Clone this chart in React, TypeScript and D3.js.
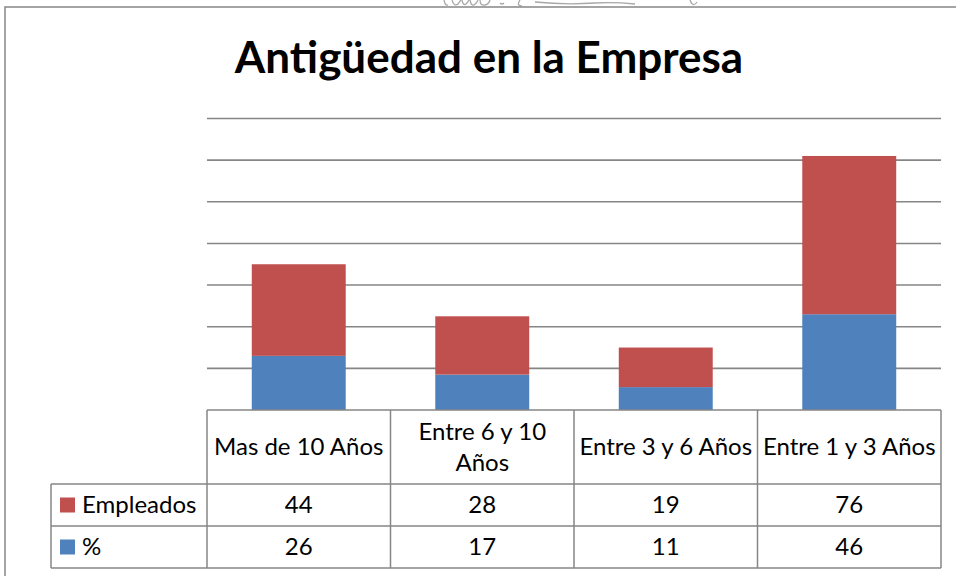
import React from 'react';
import * as d3 from 'd3';

// chart data
const categories = ['Mas de 10 Años', 'Entre 6 y 10 Años', 'Entre 3 y 6 Años', 'Entre 1 y 3 Años'];
const headerLines = [['Mas de 10 Años'], ['Entre 6 y 10', 'Años'], ['Entre 3 y 6 Años'], ['Entre 1 y 3 Años']];
const empleados = [44, 28, 19, 76];
const porcentaje = [26, 17, 11, 46];
const seriesNames = ['Empleados', '%'];
const yTicks = [0, 20, 40, 60, 80, 100, 120, 140];

const W = 956;
const H = 576;
const FONT = 'Lato, "Open Sans", sans-serif';
const BLUE = '#4F81BD';
const RED = '#C0504D';
const GRID = '#868686';

// bits of handwriting cut off above the frame (scan leftover)
const SCRIBBLE = 'M444,0 q1,6 4,5 M452,0 q2,7 6,4 q2,-3 3,-4 M462,0 q1,6 4,4 q2,-2 3,-4 M470,0 q1,6 4,5 q3,-2 4,-5 M480,0 q0,6 5,5 q4,-1 5,-5 M500,3 q2,2 4,0 M520,0 q-4,6 2,6 M535,2 q30,3 60,1 q20,-1 40,1 M690,0 q3,8 7,2';

const App = () => {
  const left = 207;
  const right = 941;
  const plotTop = 118.5;
  const plotBottom = 410;
  const headerBottom = 484;
  const rowH = 42;
  const tableLeft = 51;

  const x = d3.scaleBand<string>()
    .domain(categories)
    .range([left, right])
    .paddingInner(0.488)
    .paddingOuter(0.244);

  const cell = d3.scaleBand<string>().domain(categories).range([left, right]);

  const y = d3.scaleLinear().domain([0, 140]).range([plotBottom, plotTop]);

  const rows = categories.map((c, i) => ({ cat: c, pct: porcentaje[i], emp: empleados[i] }));
  const stacked = d3.stack<any>().keys(['pct', 'emp'])(rows);
  const colors: Record<string, string> = { pct: BLUE, emp: RED };

  const tableRows = [
    { name: seriesNames[0], values: empleados, color: RED },
    { name: seriesNames[1], values: porcentaje, color: BLUE },
  ];

  return (
    <svg width={W} height={H} style={{ position: 'absolute', left: 0, top: 0, background: '#fff' }}>
      <path d={SCRIBBLE} fill="none" stroke="#a8a8a8" strokeWidth={1.3} />
      <rect x={5} y={7} width={W + 20} height={H + 20} fill="none" stroke={GRID} strokeWidth={1.5} />

      <text x={489} y={73} textAnchor="middle" fontFamily={FONT} fontWeight="bold" fontSize={44} fill="#000">
        Antigüedad en la Empresa
      </text>

      {/* gridlines */}
      {yTicks.slice(1).map(t => (
        <line key={t} x1={left} x2={right} y1={y(t)} y2={y(t)} stroke={GRID} strokeWidth={1.6} />
      ))}

      {/* stacked bars */}
      {stacked.map(s => (
        <g key={s.key} fill={colors[s.key]}>
          {s.map((d, i) => (
            <rect key={i} x={x(d.data.cat)} width={x.bandwidth()} y={y(d[1])} height={y(d[0]) - y(d[1])} />
          ))}
        </g>
      ))}

      {/* data table */}
      <g stroke={GRID} strokeWidth={1.5} fill="none">
        <line x1={left} x2={right} y1={plotBottom} y2={plotBottom} />
        <line x1={tableLeft} x2={right} y1={headerBottom} y2={headerBottom} />
        <line x1={tableLeft} x2={right} y1={headerBottom + rowH} y2={headerBottom + rowH} />
        <line x1={tableLeft} x2={right} y1={headerBottom + 2 * rowH} y2={headerBottom + 2 * rowH} />
        <line x1={tableLeft} x2={tableLeft} y1={headerBottom} y2={headerBottom + 2 * rowH} />
        {categories.map(c => (
          <line key={c} x1={cell(c)} x2={cell(c)} y1={plotBottom} y2={headerBottom + 2 * rowH} />
        ))}
        <line x1={right} x2={right} y1={plotBottom} y2={headerBottom + 2 * rowH} />
      </g>

      {categories.map((c, i) => {
        const lines = headerLines[i];
        const cx = (cell(c) as number) + cell.bandwidth() / 2;
        const mid = (plotBottom + headerBottom) / 2;
        const lh = 31;
        return (
          <text key={c} textAnchor="middle" fontFamily={FONT} fontSize={24} fill="#000">
            {lines.map((l, j) => (
              <tspan key={j} x={cx} y={mid + (j - (lines.length - 1) / 2) * lh} dy="0.35em">{l}</tspan>
            ))}
          </text>
        );
      })}

      {tableRows.map((r, ri) => {
        const cy = headerBottom + ri * rowH + rowH / 2;
        return (
          <g key={r.name}>
            <rect x={60} y={cy - 7.5} width={15} height={15} fill={r.color} />
            <text x={82} y={cy} dy="0.35em" fontFamily={FONT} fontSize={24} fill="#000">{r.name}</text>
            {r.values.map((v, i) => (
              <text key={i} x={(cell(categories[i]) as number) + cell.bandwidth() / 2} y={cy} dy="0.35em"
                textAnchor="middle" fontFamily={FONT} fontSize={24} fill="#000">{v}</text>
            ))}
          </g>
        );
      })}
    </svg>
  );
};

export default App;
